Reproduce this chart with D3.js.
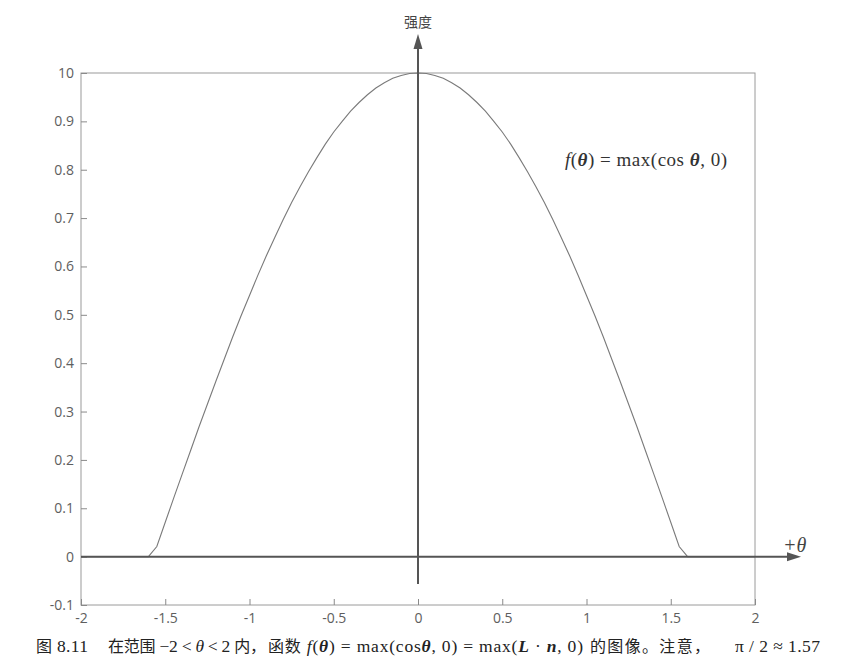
<!DOCTYPE html>
<html><head><meta charset="utf-8">
<script src="https://cdn.jsdelivr.net/npm/d3@7"></script>
<style>body{margin:0;background:#fff}svg{display:block}</style>
</head><body><svg id="c" width="853" height="667"></svg>
<script>
const thetaValues = [-2.00,-1.95,-1.90,-1.85,-1.80,-1.75,-1.70,-1.65,-1.60,-1.55,-1.50,-1.45,-1.40,-1.35,-1.30,-1.25,-1.20,-1.15,-1.10,-1.05,-1.00,-0.95,-0.90,-0.85,-0.80,-0.75,-0.70,-0.65,-0.60,-0.55,-0.50,-0.45,-0.40,-0.35,-0.30,-0.25,-0.20,-0.15,-0.10,-0.05,0.00,0.05,0.10,0.15,0.20,0.25,0.30,0.35,0.40,0.45,0.50,0.55,0.60,0.65,0.70,0.75,0.80,0.85,0.90,0.95,1.00,1.05,1.10,1.15,1.20,1.25,1.30,1.35,1.40,1.45,1.50,1.55,1.60,1.65,1.70,1.75,1.80,1.85,1.90,1.95,2.00];
const intensityValues = [0,0,0,0,0,0,0,0,0,0.021,0.071,0.121,0.170,0.219,0.268,0.315,0.362,0.408,0.454,0.498,0.540,0.582,0.622,0.660,0.697,0.732,0.765,0.796,0.825,0.853,0.878,0.900,0.921,0.939,0.955,0.969,0.980,0.989,0.995,0.999,1.000,0.999,0.995,0.989,0.980,0.969,0.955,0.939,0.921,0.900,0.878,0.853,0.825,0.796,0.765,0.732,0.697,0.660,0.622,0.582,0.540,0.498,0.454,0.408,0.362,0.315,0.268,0.219,0.170,0.121,0.071,0.021,0,0,0,0,0,0,0,0,0];
const xTicks = [-2,-1.5,-1,-0.5,0,0.5,1,1.5,2];
const xTickLabels = ["-2","-1.5","-1","-0.5","0","0.5","1","1.5","2"];
const yTicks = [-0.1,0,0.1,0.2,0.3,0.4,0.5,0.6,0.7,0.8,0.9,1.0];
const yTickLabels = ["-0.1","0","0.1","0.2","0.3","0.4","0.5","0.6","0.7","0.8","0.9","10"];
const yAxisTitle = "强度";
const xAxisTitle = "+θ";

const svg = d3.select("#c");
const L = 81, R = 755, T = 73, B = 605;
const x = d3.scaleLinear().domain([-2,2]).range([L,R]);
const y = d3.scaleLinear().domain([-0.1,1]).range([B,T]);

// frame
svg.append("rect").attr("x",L).attr("y",T).attr("width",R-L).attr("height",B-T)
  .attr("fill","none").attr("stroke","#9a9a9a").attr("stroke-width",1);

// axes ticks (inward)
const xa = svg.append("g").attr("transform",`translate(0,${B})`)
  .call(d3.axisBottom(x).tickValues(xTicks).tickSize(-6).tickPadding(7).tickFormat((d,i)=>xTickLabels[i]));
const ya = svg.append("g").attr("transform",`translate(${L},0)`)
  .call(d3.axisLeft(y).tickValues(yTicks).tickSize(-6).tickPadding(7).tickFormat((d,i)=>yTickLabels[i]));
[xa,ya].forEach(g=>{
  g.select(".domain").remove();
  g.selectAll("line").attr("stroke","#8a8a8a");
  g.selectAll("text").attr("fill","#5e5e5e").style("font-family","'Open Sans','DejaVu Sans',sans-serif").style("font-size","14px");
});
xa.selectAll("text").attr("dy","0.8em");

// curve
svg.append("path").datum(thetaValues.map((t,i)=>[t,intensityValues[i]]))
  .attr("fill","none").attr("stroke","#7a7a7a").attr("stroke-width",1.1)
  .attr("d", d3.line().x(d=>x(d[0])).y(d=>y(d[1])));

// coordinate arrows
const axColor = "#555";
svg.append("line").attr("x1",L).attr("x2",790).attr("y1",y(0)).attr("y2",y(0))
  .attr("stroke",axColor).attr("stroke-width",2);
svg.append("path").attr("d",`M801,${y(0)} L787,${y(0)-4.5} L787,${y(0)+4.5} Z`).attr("fill",axColor);
svg.append("line").attr("x1",x(0)).attr("x2",x(0)).attr("y1",584).attr("y2",46)
  .attr("stroke",axColor).attr("stroke-width",2);
svg.append("path").attr("d",`M${x(0)},34 L${x(0)-4.5},49 L${x(0)+4.5},49 Z`).attr("fill",axColor);

svg.append("text").attr("x",x(0)).attr("y",27).attr("text-anchor","middle")
  .style("font-family","'Noto Sans CJK SC',sans-serif").style("font-size","14px").attr("fill","#444").text(yAxisTitle);
svg.append("text").attr("x",783).attr("y",552)
  .style("font-family","'Liberation Serif',serif").style("font-size","20px").style("font-style","italic").attr("fill","#444").text(xAxisTitle);

// formula
const f = svg.append("text").attr("x",565).attr("y",166).attr("textLength",162).attr("lengthAdjust","spacing")
  .style("font-family","'Liberation Serif',serif").style("font-size","19px").attr("fill","#333");
f.append("tspan").style("font-style","italic").text("f");
f.append("tspan").text("(");
f.append("tspan").style("font-style","italic").style("font-weight","bold").text("θ");
f.append("tspan").text(") = max(cos ");
f.append("tspan").style("font-style","italic").style("font-weight","bold").text("θ");
f.append("tspan").text(", 0)");

// caption, in segments
const cjk = "'Noto Sans CJK SC',sans-serif";
function seg(x0, len){
  return svg.append("text").attr("x",x0).attr("y",652).attr("textLength",len).attr("lengthAdjust","spacing")
    .style("font-family","'Liberation Serif',serif").style("font-size","17.5px").attr("fill","#222");
}
function cj(t, s){ t.append("tspan").style("font-family",cjk).style("font-size","16px").text(s); }
function it(t, s, bold){ const sp=t.append("tspan").style("font-style","italic").text(s); if(bold) sp.style("font-weight","bold"); }
function rm(t, s){ t.append("tspan").text(s); }

const s0 = seg(36, 52); cj(s0,"图"); rm(s0," 8.11");
const s1 = seg(108, 158); cj(s1,"在范围"); rm(s1," −2 < "); it(s1,"θ",false); rm(s1," < 2 "); cj(s1,"内，");
const s2 = seg(268, 315); cj(s2,"函数"); rm(s2," "); it(s2,"f"); rm(s2,"("); it(s2,"θ",true);
rm(s2,") = max(cos"); it(s2,"θ",true); rm(s2,", 0) = max("); it(s2,"L",true); rm(s2," · "); it(s2,"n",true); rm(s2,", 0)");
const s3 = seg(590, 120); cj(s3,"的图像。注意，");
const s4 = seg(735, 85); rm(s4,"π / 2 ≈ 1.57");
</script></body></html>
